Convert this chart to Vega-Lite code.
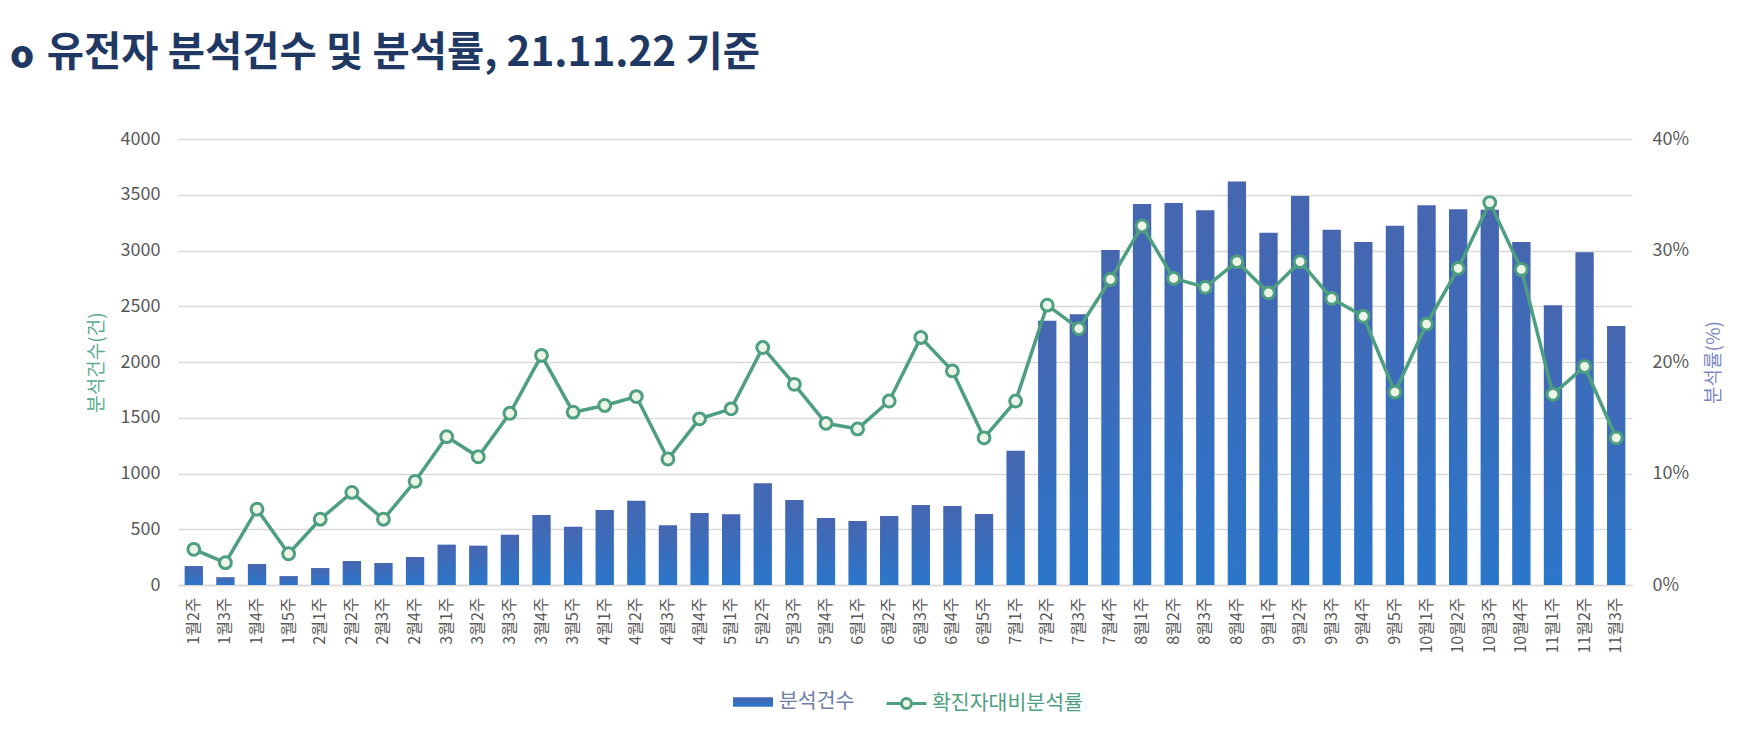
{
  "$schema": "https://vega.github.io/schema/vega-lite/v6.json",
  "width": 1454,
  "height": 446,
  "autosize": {"type": "none"},
  "padding": {"left": 178, "top": 139, "right": 124, "bottom": 151},
  "background": "white",
  "config": {"font": "Noto Sans CJK KR", "view": {"stroke": null}},
  "title": {
    "text": "o",
    "subtitle": "\u200b\u00a0\u00a0\u00a0\u00a0유전자 분석건수 및 분석률, 21.11.22 기준",
    "anchor": "start",
    "frame": "group",
    "fontSize": 38,
    "fontWeight": 900,
    "color": "#1f3864",
    "subtitleFont": "Noto Sans CJK KR",
    "subtitleFontSize": 40.5,
    "subtitleFontWeight": "bold",
    "subtitleColor": "#1f3864",
    "subtitlePadding": -42,
    "dx": -168,
    "offset": 50
  },
  "data": {
    "values": [
      {"week": "1월2주", "count": 170, "rate": 3.2},
      {"week": "1월3주", "count": 70, "rate": 2.0},
      {"week": "1월4주", "count": 188, "rate": 6.8},
      {"week": "1월5주", "count": 80, "rate": 2.8},
      {"week": "2월1주", "count": 152, "rate": 5.9},
      {"week": "2월2주", "count": 215, "rate": 8.3},
      {"week": "2월3주", "count": 197, "rate": 5.9},
      {"week": "2월4주", "count": 251, "rate": 9.3},
      {"week": "3월1주", "count": 362, "rate": 13.3},
      {"week": "3월2주", "count": 353, "rate": 11.5},
      {"week": "3월3주", "count": 451, "rate": 15.4},
      {"week": "3월4주", "count": 628, "rate": 20.6},
      {"week": "3월5주", "count": 523, "rate": 15.5},
      {"week": "4월1주", "count": 673, "rate": 16.1},
      {"week": "4월2주", "count": 756, "rate": 16.9},
      {"week": "4월3주", "count": 535, "rate": 11.3},
      {"week": "4월4주", "count": 646, "rate": 14.9},
      {"week": "5월1주", "count": 634, "rate": 15.8},
      {"week": "5월2주", "count": 912, "rate": 21.3},
      {"week": "5월3주", "count": 762, "rate": 18.0},
      {"week": "5월4주", "count": 601, "rate": 14.5},
      {"week": "6월1주", "count": 574, "rate": 14.0},
      {"week": "6월2주", "count": 619, "rate": 16.5},
      {"week": "6월3주", "count": 718, "rate": 22.2},
      {"week": "6월4주", "count": 709, "rate": 19.2},
      {"week": "6월5주", "count": 637, "rate": 13.2},
      {"week": "7월1주", "count": 1205, "rate": 16.5},
      {"week": "7월2주", "count": 2371, "rate": 25.1},
      {"week": "7월3주", "count": 2428, "rate": 23.0},
      {"week": "7월4주", "count": 3005, "rate": 27.4},
      {"week": "8월1주", "count": 3418, "rate": 32.2},
      {"week": "8월2주", "count": 3427, "rate": 27.5},
      {"week": "8월3주", "count": 3361, "rate": 26.7},
      {"week": "8월4주", "count": 3618, "rate": 29.0},
      {"week": "9월1주", "count": 3160, "rate": 26.2},
      {"week": "9월2주", "count": 3489, "rate": 29.0},
      {"week": "9월3주", "count": 3187, "rate": 25.7},
      {"week": "9월4주", "count": 3077, "rate": 24.1},
      {"week": "9월5주", "count": 3223, "rate": 17.3},
      {"week": "10월1주", "count": 3406, "rate": 23.4},
      {"week": "10월2주", "count": 3370, "rate": 28.4},
      {"week": "10월3주", "count": 3365, "rate": 34.3},
      {"week": "10월4주", "count": 3077, "rate": 28.3},
      {"week": "11월1주", "count": 2509, "rate": 17.1},
      {"week": "11월2주", "count": 2984, "rate": 19.6},
      {"week": "11월3주", "count": 2323, "rate": 13.2}
    ]
  },
  "encoding": {
    "x": {
      "field": "week",
      "type": "nominal",
      "sort": null,
      "scale": {"paddingInner": 0.42, "paddingOuter": 0.21},
      "axis": {
        "title": null,
        "labelAngle": -90,
        "labelFontSize": 16,
        "labelColor": "#595959",
        "ticks": false,
        "domainColor": "#d9d9d9",
        "domainWidth": 1.5,
        "labelPadding": 12
      }
    }
  },
  "layer": [
    {
      "mark": {
        "type": "bar",
        "strokeWidth": 0,
        "color": {
          "gradient": "linear",
          "x1": 0, "y1": 0, "x2": 0, "y2": 1,
          "stops": [
            {"offset": 0, "color": "#4666b0"},
            {"offset": 1, "color": "#2b76ca"}
          ]
        }
      },
      "encoding": {
        "y": {
          "field": "count",
          "type": "quantitative",
          "scale": {"domain": [0, 4000], "nice": false},
          "axis": {
            "title": "분석건수(건)",
            "titleColor": "#5aaa8e",
            "titleFontSize": 19,
            "titleFontWeight": "normal",
            "titlePadding": 14,
            "format": "d",
            "values": [0, 500, 1000, 1500, 2000, 2500, 3000, 3500, 4000],
            "labelFontSize": 18,
            "labelColor": "#595959",
            "ticks": false,
            "domain": false,
            "gridColor": "#d9d9d9",
            "gridWidth": 1.5,
            "labelPadding": 18
          }
        },
        "opacity": {
          "datum": "분석건수",
          "type": "nominal",
          "scale": {"type": "ordinal", "domain": ["분석건수"], "range": [1]},
          "legend": {
            "title": null,
            "orient": "none",
            "legendX": 555,
            "legendY": 543,
            "direction": "horizontal",
            "symbolType": "M-1,-0.24H1V0.24H-1Z",
            "symbolSize": 1600,
            "symbolFillColor": "#4666b0",
            "symbolStrokeWidth": 0,
            "labelFontSize": 20.5,
            "labelOffset": 6,
            "labelColor": "#6f7ea8"
          }
        }
      }
    },
    {
      "encoding": {
        "y": {
          "field": "rate",
          "type": "quantitative",
          "scale": {"domain": [0, 40], "nice": false},
          "axis": {
            "orient": "right",
            "title": "분석률(%)",
            "titleColor": "#7d87c2",
            "titleFontSize": 19,
            "titleFontWeight": "normal",
            "titleAngle": 270,
            "titleBaseline": "top",
            "titlePadding": 16,
            "values": [0, 10, 20, 30, 40],
            "labelExpr": "datum.value + '%'",
            "labelFontSize": 18,
            "labelColor": "#595959",
            "ticks": false,
            "domain": false,
            "grid": false,
            "labelPadding": 20
          }
        }
      },
      "layer": [
        {
          "mark": {"type": "line", "strokeWidth": 3.5},
          "encoding": {
            "stroke": {
              "datum": "확진자대비분석률",
              "type": "nominal",
              "scale": {"domain": ["확진자대비분석률"], "range": ["#4e9e81"]},
              "legend": {
                "title": null,
                "orient": "none",
                "legendX": 707,
                "legendY": 543,
                "direction": "horizontal",
                "symbolType": "M-1,0H-0.25A0.25,0.25 0 1 1 0.25,0A0.25,0.25 0 1 1 -0.25,0M0.25,0H1",
                "symbolSize": 1600,
                "symbolStrokeWidth": 3,
                "symbolFillColor": "#edf6e6",
                "labelFontSize": 20.5,
                "labelOffset": 4,
                "labelColor": "#4e9e81"
              }
            }
          }
        },
        {
          "mark": {
            "type": "point",
            "filled": true,
            "fill": "#edf6e6",
            "stroke": "#4e9e81",
            "strokeWidth": 3,
            "size": 140,
            "opacity": 1
          },
          "encoding": {}
        }
      ]
    }
  ],
  "resolve": {"scale": {"y": "independent"}}
}
